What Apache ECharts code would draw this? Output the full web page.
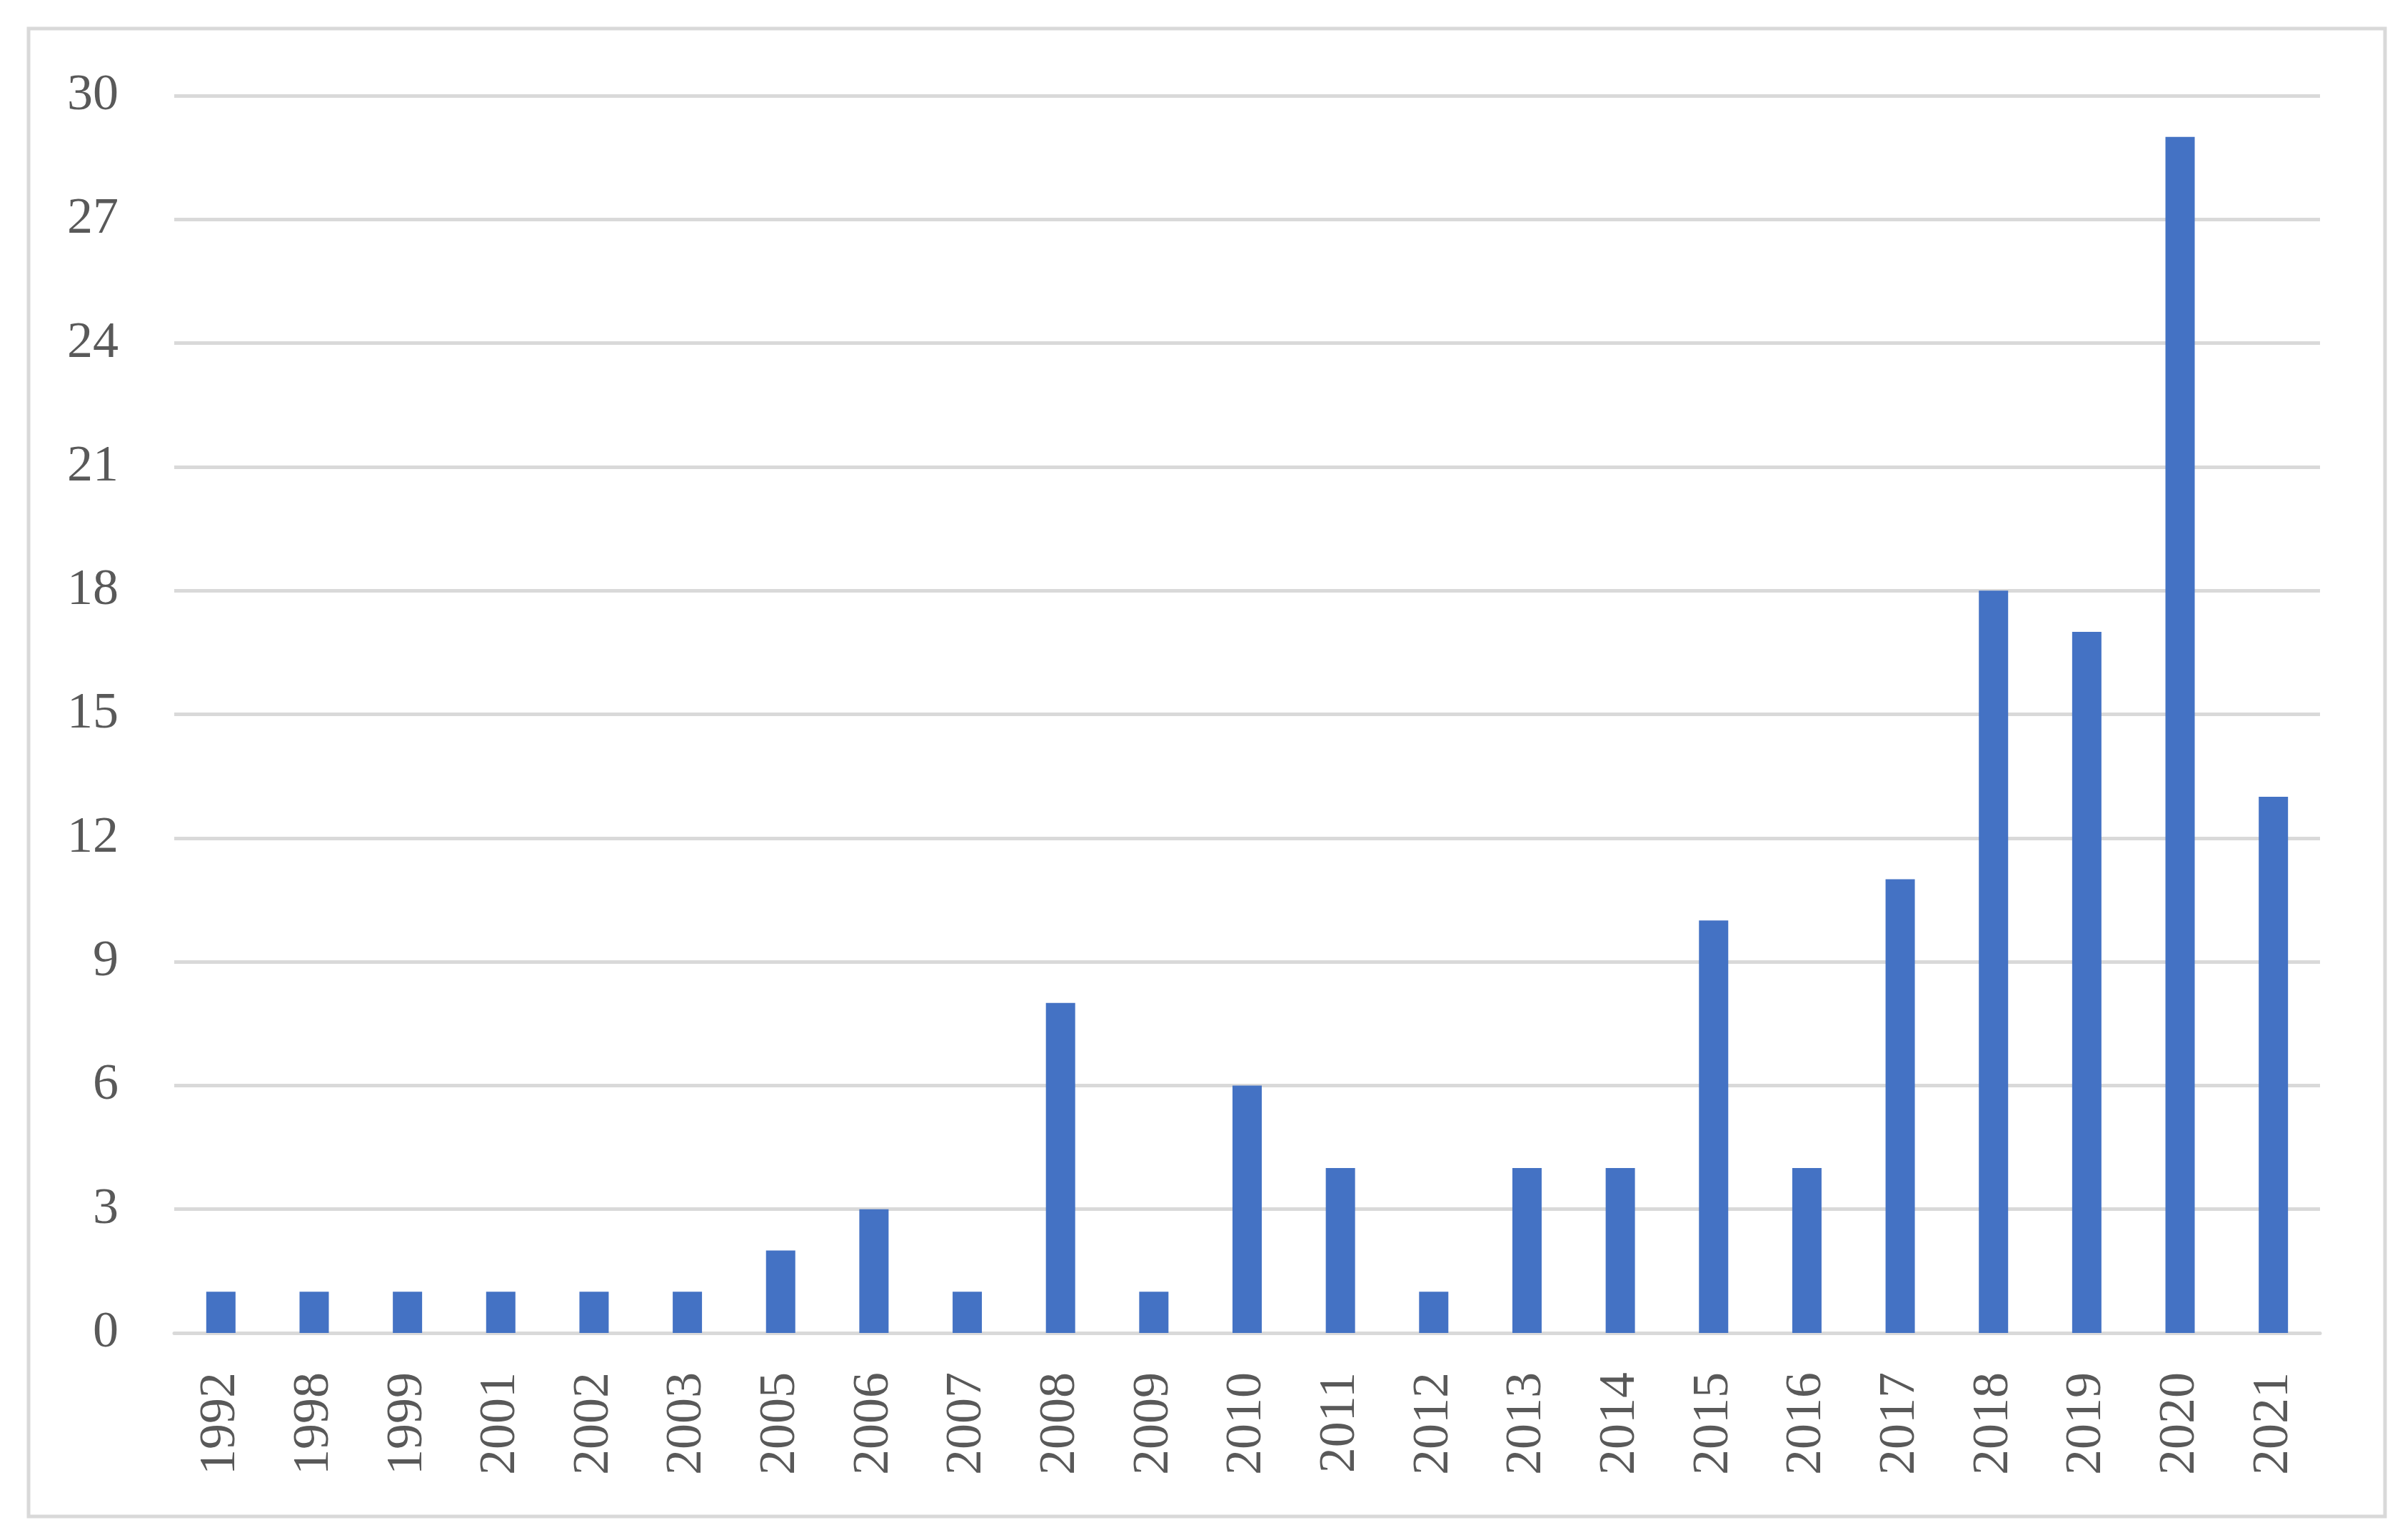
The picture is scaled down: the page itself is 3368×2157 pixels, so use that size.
<!DOCTYPE html>
<html><head><meta charset="utf-8">
<script src="https://cdn.jsdelivr.net/npm/echarts@6/dist/echarts.min.js"></script>
<style>html,body{margin:0;padding:0;background:#fff}#c{width:3368px;height:2157px}</style>
</head><body><div id="c"></div>
<script>
const years = ['1992','1998','1999','2001','2002','2003','2005','2006','2007','2008','2009','2010','2011','2012','2013','2014','2015','2016','2017','2018','2019','2020','2021'];
const counts = [1,1,1,1,1,1,2,3,1,8,1,6,4,1,4,4,10,4,11,18,17,29,13];
const yTicks = [0,3,6,9,12,15,18,21,24,27,30];
const font = '"Liberation Serif", "DejaVu Serif", serif';
const chart = echarts.init(document.getElementById('c'));
chart.setOption({
  animation: false,
  graphic: [{type:'rect', shape:{x:40,y:40,width:3300,height:2084}, style:{fill:'none', stroke:'#d9d9d9', lineWidth:5}}],
  grid: {left:244, right:119, top:134, bottom:290, containLabel:false},
  xAxis: {type:'category', data: years,
    axisLine:{show:true, lineStyle:{color:'#d9d9d9', width:5}},
    axisTick:{show:false},
    axisLabel:{rotate:90, fontSize:72, fontFamily:font, color:'#595959', margin:55}},
  yAxis: {type:'value', min:yTicks[0], max:yTicks[yTicks.length-1], interval:3,
    axisLine:{show:false}, axisTick:{show:false},
    splitLine:{lineStyle:{color:'#d9d9d9', width:5}},
    axisLabel:{fontSize:72, fontFamily:font, color:'#595959', margin:78}},
  series: [{type:'bar', data: counts, barWidth:41, itemStyle:{color:'#4472c4'}}]
});
</script></body></html>
